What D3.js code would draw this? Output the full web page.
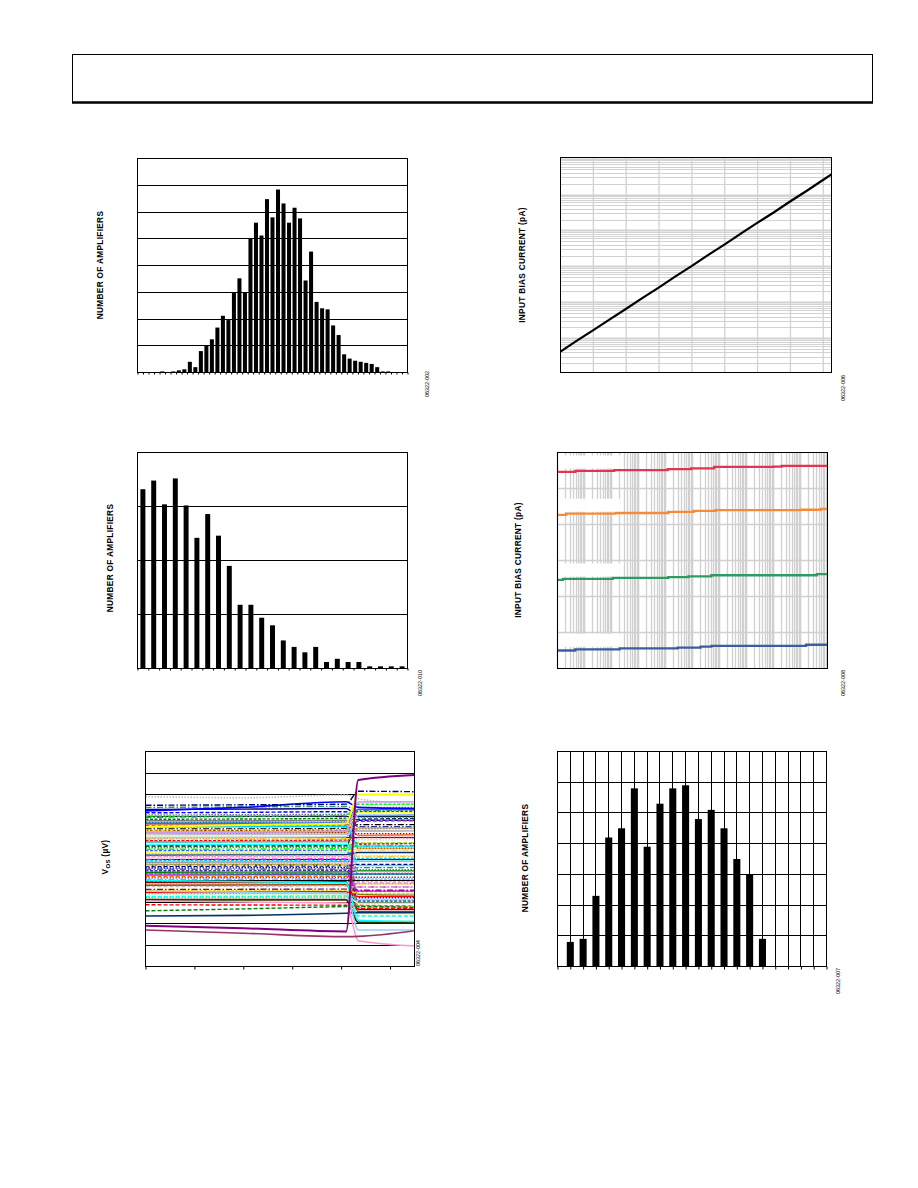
<!DOCTYPE html>
<html><head><meta charset="utf-8">
<script src="https://cdn.jsdelivr.net/npm/d3@7"></script>
<style>
body{margin:0;background:#fff}
svg{display:block}
text{font-family:"Liberation Sans",Arial,sans-serif}
</style>
</head><body>
<svg id="page" width="918" height="1188"></svg>
<script>
// ---------------- DATA ----------------
// Chart 1: offset voltage distribution (49 bins)
const hist1Counts = [0,0,0,0,1,0,1,2,3,10,5,20,25,31,42,53,49,75,88,75,125,140,128,162,145,171,158,140,154,144,86,113,66,60,59,44,35,17,13,11,10,9,8,5,1,1,0,0,0];
const hist1GridStep = 25, hist1Max = 200;

// Chart 2: input bias current vs temperature
const ibTemp    = [-40,-30,-20,-10,0,10,20,30,40,50,60,70,80,90,100,110,120,125];
const ibCurrent = [0.0435,0.088,0.172,0.345,0.68,1.37,2.68,5.45,10.6,21.5,42.2,85.5,170,332,672,1320,2660,3750];
const ibTempGrid = [-20,0,20,40,60,80,100,120];

// Chart 3: TCVos distribution (25 bins)
const hist3Counts = [166,174,152,176,151,121,143,123,95,59,59,47,40,26,20,15,20,6,9,6,6,2,2,2,2];
const hist3GridStep = 50, hist3Max = 200;

// Chart 4: input bias current, four series, log x (steps)
const ib4Series = ["s1","s2","s3","s4"];
const ib4X = {
  s1:[1,4.6,126,1.2e4,8.9e4,6.3e5,1e8,2e8,1e10],
  s2:[1,2.1,141,1.26e4,1.1e5,7.1e5,1e9,5.6e9,1e10],
  s3:[1,1.6,112,1.26e4,7.1e4,5e5,4e9,1e10],
  s4:[1,4.5,200,2.8e4,2e5,5e5,1.6e9,1e10]
};
const ib4Y = {
  s1:[5.46,5.49,5.51,5.54,5.56,5.60,5.61,5.63,5.63],
  s2:[4.27,4.30,4.32,4.35,4.38,4.40,4.41,4.43,4.43],
  s3:[2.46,2.49,2.52,2.54,2.56,2.59,2.62,2.62],
  s4:[0.50,0.53,0.56,0.58,0.61,0.63,0.66,0.66]
};

// Chart 5: Vos (uV) vs time, many units; values at knot times
const vosTime = [0,20,41,43.5,55];
const vosTraces = [
 [230,232,235,200,205],[215,217,220,180,180],[205,206,208,240,240],[195,198,200,150,150],[185,186,190,220,222],
 [178,178,180,130,132],[170,171,172,195,195],[162,163,165,110,112],[155,157,158,175,178],[148,149,150,90,92],
 [140,140,142,160,160],[133,134,135,70,72],[126,127,128,145,145],[120,121,122,50,50],[112,114,115,130,132],
 [105,106,108,30,30],[98,99,100,118,118],[92,93,94,10,12],[85,86,88,100,100],[78,79,80,-10,-10],
 [72,73,74,88,90],[65,67,68,-30,-30],[58,59,60,75,75],[52,54,55,-50,-50],[45,46,48,60,62],
 [38,39,40,-70,-70],[32,33,35,45,45],[25,27,28,-90,-92],[18,19,20,30,30],[12,13,14,-110,-110],
 [5,6,8,15,15],[-2,-1,0,-130,-130],[-8,-7,-6,2,2],[-15,-14,-12,-150,-150],[-22,-21,-20,-12,-12],
 [-28,-27,-26,-165,-168],[-35,-33,-32,-25,-25],[-42,-41,-40,-180,-180],[-48,-47,-46,-40,-40],[-55,-54,-52,-195,-195],
 [-62,-61,-60,-55,-55],[-68,-67,-66,-205,-205],[-75,-73,-72,-70,-70],[-82,-81,-80,-215,-218],[-88,-87,-86,-85,-85],
 [-95,-94,-92,-225,-225],[-102,-101,-100,-100,-100],[-108,-107,-106,-235,-235],[-115,-114,-112,-115,-115],[-122,-121,-120,-245,-245],
 [-128,-127,-126,-130,-130],[-135,-134,-132,-255,-258],[-142,-141,-140,-145,-145],[-148,-147,-146,-160,-160],[-155,-154,-152,-175,-175],
 [-162,-161,-160,-190,-190],[-168,-167,-166,-205,-205],[-175,-174,-172,-265,-265],[-180,-179,-178,-220,-222],[240,242,245,225,228],
 [200,201,203,255,255],[165,166,168,230,230],[135,136,138,215,215],[100,101,102,205,205],[60,61,62,185,188],
 [10,11,12,-60,-62],[-30,-29,-28,40,40],[-70,-69,-68,-150,-150],[150,151,152,60,60],[80,81,82,140,142]
];
const vosOutliers = [
 [290,285,297,280,258],
 [224,240,266,240,235],
 [250,252,255,315,313],
 [150,158,165,300,300],
 [120,125,130,265,266],
 [-190,-190,-190,-295,-296],
 [-265,-262,-252,-250,-250],
 [-241,-232,-221,-220,-225],
 [-213,-214,-215,-230,-230],
 [-150,-155,-160,-330,-330],
 [-100,-105,-110,-285,-290],
 [-195,-200,-205,-380,-404],
 [-330,-345,-361,-360,-334],
 [-310,-322,-337,367,391]
];
const vosTicks = [0,10,20,30,40,50];

// Chart 6: distribution (16 bars on 21-division grid)
const hist6Pos = [1,2,3,4,5,6,7,8,9,10,11,12,13,14,15,16];
const hist6Counts = [8,9,23,42,45,58,39,53,58,59,48,51,45,35,30,9];

// Text
const labelAmps = "NUMBER OF AMPLIFIERS";
const labelIb = "INPUT BIAS CURRENT (pA)";
const figCodes = ["06322-002","06322-006","06322-010","06322-008","06322-004","06322-007"];

// ---------------- DRAW ----------------
const svg = d3.select("#page");
svg.append("rect").attr("width",918).attr("height",1188).attr("fill","#fff");

svg.append("rect").attr("x",72.5).attr("y",54.5).attr("width",800).attr("height",48)
  .attr("fill","none").attr("stroke","#000").attr("stroke-width",1);
svg.append("line").attr("x1",72).attr("x2",873).attr("y1",102.5).attr("y2",102.5)
  .attr("stroke","#000").attr("stroke-width",2.5);

const F = {
  c1:{l:137.5,r:407.5,t:158.5,b:372.5},
  c2:{l:560.5,r:831.5,t:157.5,b:372.5},
  c3:{l:137.5,r:407.5,t:452.5,b:668.5},
  c4:{l:557.5,r:827.5,t:452.5,b:668.5},
  c5:{l:145.5,r:414.5,t:751.5,b:966.5},
  c6:{l:557.5,r:826.5,t:751.5,b:966.5}
};

function ylabel(x,y,txt){
  return svg.append("text").attr("transform",`translate(${x},${y}) rotate(-90)`)
    .attr("text-anchor","middle").attr("dominant-baseline","central")
    .attr("font-size",8.3).attr("font-weight","bold").attr("letter-spacing",0.3)
    .attr("fill","#000").text(txt);
}
function figcode(x,y,txt){
  svg.append("text").attr("transform",`translate(${x},${y}) rotate(-90)`)
    .attr("text-anchor","middle").attr("dominant-baseline","central")
    .attr("font-size",5.4).attr("fill","#000").text(txt);
}
function frame(f){
  svg.append("rect").attr("x",f.l).attr("y",f.t).attr("width",f.r-f.l).attr("height",f.b-f.t)
    .attr("fill","none").attr("stroke","#000").attr("stroke-width",1);
}
const snap = v => Math.round(v-0.5)+0.5;

// ===== Chart 1 =====
{
  const f = F.c1;
  const g = svg.append("g");
  const x = d3.scaleBand().domain(d3.range(hist1Counts.length)).range([f.l,f.r]).paddingInner(0.27).paddingOuter(0.135);
  const xt = d3.scaleLinear().domain([0,hist1Counts.length]).range([f.l,f.r]);
  const y = d3.scaleLinear().domain([0,hist1Max]).range([f.b,f.t]);
  g.selectAll("line.grid").data(d3.range(hist1GridStep,hist1Max,hist1GridStep)).join("line")
    .attr("x1",f.l).attr("x2",f.r).attr("y1",d=>snap(y(d))).attr("y2",d=>snap(y(d)))
    .attr("stroke","#000").attr("stroke-width",1);
  g.selectAll("rect.bar").data(hist1Counts).join("rect")
    .attr("x",(d,i)=>x(i)).attr("y",d=>y(d)).attr("width",x.bandwidth()).attr("height",d=>y(0)-y(d)).attr("fill","#000");
  g.append("g").attr("transform",`translate(0,${f.b})`)
    .call(d3.axisBottom(xt).tickValues(d3.range(0,hist1Counts.length+1)).tickSize(2).tickFormat(""))
    .call(a=>a.select(".domain").remove());
  frame(f);
  ylabel(100,265,labelAmps);
  figcode(427,384,figCodes[0]);
}

// ===== Chart 2 =====
{
  const f = F.c2;
  const g = svg.append("g");
  const x = d3.scaleLinear().domain([-40,125]).range([f.l,f.r]);
  const y = d3.scaleLog().domain([0.0114,11100]).range([f.b,f.t]);
  const hl = [];
  for(let k=-2;k<=4;k++) for(let m=1;m<=9;m++){ const v=m*Math.pow(10,k); if(v>0.0114&&v<11100) hl.push({v,major:m===1}); }
  g.selectAll("line.h").data(hl).join("line")
    .attr("x1",f.l).attr("x2",f.r).attr("y1",d=>snap(y(d.v))).attr("y2",d=>snap(y(d.v)))
    .attr("stroke","#d2d2d2").attr("stroke-width",d=>d.major?2:1);
  g.selectAll("line.v").data(ibTempGrid).join("line")
    .attr("x1",d=>x(d)).attr("x2",d=>x(d)).attr("y1",f.t).attr("y2",f.b)
    .attr("stroke","#d2d2d2").attr("stroke-width",1.3);
  const line = d3.line().x((d,i)=>x(ibTemp[i])).y(d=>y(d));
  g.append("path").datum(ibCurrent).attr("d",line).attr("fill","none").attr("stroke","#000").attr("stroke-width",2.2);
  frame(f);
  ylabel(521.5,265,labelIb);
  figcode(843,388,figCodes[1]);
}

// ===== Chart 3 =====
{
  const f = F.c3;
  const g = svg.append("g");
  const x = d3.scaleBand().domain(d3.range(hist3Counts.length)).range([f.l,f.r]).paddingInner(0.54).paddingOuter(0.27);
  const xt = d3.scaleLinear().domain([0,hist3Counts.length]).range([f.l,f.r]);
  const y = d3.scaleLinear().domain([0,hist3Max]).range([f.b,f.t]);
  g.selectAll("line.grid").data(d3.range(hist3GridStep,hist3Max,hist3GridStep)).join("line")
    .attr("x1",f.l).attr("x2",f.r).attr("y1",d=>snap(y(d))).attr("y2",d=>snap(y(d)))
    .attr("stroke","#000").attr("stroke-width",1);
  g.selectAll("rect.bar").data(hist3Counts).join("rect")
    .attr("x",(d,i)=>x(i)).attr("y",d=>y(d)).attr("width",x.bandwidth()).attr("height",d=>y(0)-y(d)).attr("fill","#000");
  g.append("g").attr("transform",`translate(0,${f.b})`)
    .call(d3.axisBottom(xt).tickValues(d3.range(0,hist3Counts.length+1)).tickSize(2).tickFormat(""))
    .call(a=>a.select(".domain").remove());
  frame(f);
  ylabel(110,558,labelAmps);
  figcode(420,683,figCodes[2]);
}

// ===== Chart 4 =====
{
  const f = F.c4;
  const g = svg.append("g");
  const x = d3.scaleLog().domain([1,1e10]).range([f.l,f.r]);
  const y = d3.scaleLinear().domain([0,6]).range([f.b,f.t]);
  const vl = [];
  for(let k=0;k<10;k++) for(let m=1;m<=9;m++) vl.push({v:m*Math.pow(10,k),major:m===1});
  g.selectAll("line.v").data(vl).join("line")
    .attr("x1",d=>snap(x(d.v))).attr("x2",d=>snap(x(d.v))).attr("y1",f.t).attr("y2",f.b)
    .attr("stroke","#d0d0d0").attr("stroke-width",d=>d.major?1.6:1.3);
  g.selectAll("line.h").data(d3.range(1,6)).join("line")
    .attr("x1",f.l).attr("x2",f.r).attr("y1",d=>snap(y(d))).attr("y2",d=>snap(y(d)))
    .attr("stroke","#d0d0d0").attr("stroke-width",1.3);
  const boxes = [5.75,4.55,2.75,0.8];
  g.selectAll("rect.box").data(boxes).join("rect")
    .attr("x",x(1.7)).attr("width",x(2.2e2)-x(1.7))
    .attr("y",d=>y(d)-6).attr("height",13).attr("fill","#fff");
  const colors = {s1:"#e0344f",s2:"#f58a3b",s3:"#2f9a62",s4:"#3b5e9e"};
  ib4Series.forEach(s=>{
    const pts = ib4X[s].map((v,i)=>[v,ib4Y[s][i]]);
    g.append("path").datum(pts)
      .attr("d",d3.line().curve(d3.curveStepAfter).x(d=>x(d[0])).y(d=>y(d[1])))
      .attr("fill","none").attr("stroke",colors[s]).attr("stroke-width",2.3);
  });
  frame(f);
  ylabel(518,560,labelIb);
  figcode(843,683,figCodes[3]);
}

// ===== Chart 5 =====
{
  const f = F.c5;
  const g = svg.append("g");
  const x = d3.scaleLinear().domain([0,55]).range([f.l,f.r]);
  const y = d3.scaleLinear().domain([-500,500]).range([f.b,f.t]);
  g.selectAll("line.grid").data(d3.range(-400,401,100)).join("line")
    .attr("x1",f.l).attr("x2",f.r).attr("y1",d=>snap(y(d))).attr("y2",d=>snap(y(d)))
    .attr("stroke","#000").attr("stroke-width",1);
  const pal = ["#000080","#ff00ff","#ffff00","#00ffff","#800080","#800000","#008080","#0000ff","#00ccff","#99ccff",
    "#99cc00","#ffcc00","#ff9900","#ff6600","#666699","#969696","#003366","#339966","#ff0000","#993300",
    "#993366","#333399","#cc99ff","#ff99cc","#00ff00","#33cccc","#c0c0c0","#9999ff","#008000","#808000",
    "#ffcc99","#3366ff","#ccffcc","#ffff99","#000000","#808080"];
  const dashes = ["","4,2","1.5,1.5","6,2,1.5,2","3,1.5","","2,1"];
  const line = d3.line().curve(d3.curveMonotoneX).x((d,i)=>x(vosTime[i])).y(d=>y(d));
  svg.append("clipPath").attr("id","c5clip").append("rect")
    .attr("x",f.l).attr("y",f.t).attr("width",f.r-f.l).attr("height",f.b-f.t);
  const tg = g.append("g").attr("clip-path","url(#c5clip)");
  tg.selectAll("path.tr").data(vosTraces).join("path")
    .attr("d",line).attr("fill","none")
    .attr("stroke",(d,i)=>pal[(i*7)%pal.length])
    .attr("stroke-dasharray",(d,i)=>dashes[i%dashes.length])
    .attr("stroke-width",1.4);
  const oCol = ["#c0c0c0","#0000ff","#000080","#ffff00","#cc99ff","#333300","#003366","#008000","#ff0000","#99ccff","#00ffff","#ff99cc","#993366","#800080"];
  const oDash = ["1.5,1.5","","6,2,1.5,2","","","","","4,2","4,2","","","","",""];
  const oW = [1.6,1.6,1.4,2,1.6,2,1.6,1.4,1.4,1.6,1.6,1.6,1.6,2];
  tg.selectAll("path.out").data(vosOutliers).join("path")
    .attr("d",line).attr("fill","none")
    .attr("stroke",(d,i)=>oCol[i]).attr("stroke-dasharray",(d,i)=>oDash[i]).attr("stroke-width",(d,i)=>oW[i]);
  g.append("g").attr("transform",`translate(0,${f.b})`)
    .call(d3.axisBottom(x).tickValues(vosTicks).tickSize(3).tickFormat(""))
    .call(a=>a.select(".domain").remove());
  frame(f);
  const t = svg.append("text").attr("transform","translate(105,857) rotate(-90)")
    .attr("text-anchor","middle").attr("dominant-baseline","central")
    .attr("font-size",8.3).attr("font-weight","bold").attr("letter-spacing",0.3).attr("fill","#000");
  t.append("tspan").text("V");
  t.append("tspan").attr("font-size",6).attr("baseline-shift","-3").text("OS");
  t.append("tspan").text(" (\u00B5V)");
  figcode(418,953,figCodes[4]);
}

// ===== Chart 6 =====
{
  const f = F.c6;
  const g = svg.append("g");
  const x = d3.scaleLinear().domain([0,21]).range([f.l,f.r]);
  const y = d3.scaleLinear().domain([0,70]).range([f.b,f.t]);
  g.selectAll("line.h").data(d3.range(10,70,10)).join("line")
    .attr("x1",f.l).attr("x2",f.r).attr("y1",d=>snap(y(d))).attr("y2",d=>snap(y(d)))
    .attr("stroke","#000").attr("stroke-width",1);
  g.selectAll("line.v").data(d3.range(1,21)).join("line")
    .attr("x1",d=>snap(x(d))).attr("x2",d=>snap(x(d))).attr("y1",f.t).attr("y2",f.b)
    .attr("stroke","#000").attr("stroke-width",1);
  const bw = x(0.55)-x(0);
  g.selectAll("rect.bar").data(hist6Counts).join("rect")
    .attr("x",(d,i)=>x(hist6Pos[i])-bw/2).attr("y",d=>y(d)).attr("width",bw).attr("height",d=>y(0)-y(d)).attr("fill","#000");
  g.append("g").attr("transform",`translate(0,${f.b})`)
    .call(d3.axisBottom(x).tickValues(d3.range(0,22)).tickSize(3).tickFormat(""))
    .call(a=>a.select(".domain").remove());
  frame(f);
  ylabel(525,858,labelAmps);
  figcode(838,981,figCodes[5]);
}
</script>
</body></html>
